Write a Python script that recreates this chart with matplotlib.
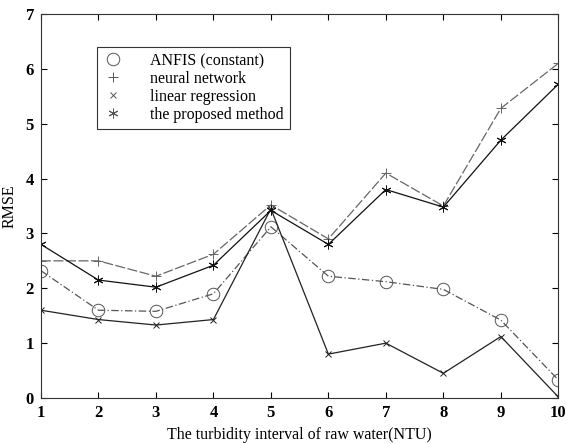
import matplotlib
matplotlib.use("Agg")
import matplotlib.pyplot as plt
from matplotlib.lines import Line2D

intervals = [1, 2, 3, 4, 5, 6, 7, 8, 9, 10]
anfis = [2.32, 1.60, 1.58, 1.90, 3.12, 2.22, 2.12, 1.98, 1.42, 0.33]
neural = [2.50, 2.50, 2.22, 2.62, 3.52, 2.90, 4.10, 3.50, 5.28, 6.10]
linreg = [1.60, 1.43, 1.33, 1.43, 3.45, 0.80, 1.00, 0.45, 1.12, 0.02]
proposed = [2.80, 2.15, 2.02, 2.42, 3.42, 2.80, 3.80, 3.48, 4.70, 5.72]
labels = ["ANFIS (constant)", "neural network", "linear regression", "the proposed method"]

plt.rcParams["font.family"] = ["Liberation Serif", "DejaVu Serif"]

fig = plt.figure(figsize=(5.66, 4.44), dpi=100)
ax = fig.add_axes([0.0724, 0.1036, 0.9140, 0.8649])

series = [
    (anfis, "o", 9, "#555555", (0, (6, 2, 1, 2))),
    (neural, "+", 7, "#666666", (0, (8, 2))),
    (linreg, "x", 4, "#222222", "-"),
    (proposed, (6, 2, 0), 7, "#111111", "-"),
]

for vals, mk, ms, col, ls in series:
    ax.plot(intervals, vals, color=col, lw=0.9, ls=ls, marker=mk, ms=ms,
            mfc="none", mec=col, mew=0.7)

handles = [Line2D([], [], ls="none", marker=mk, ms=ms, mfc="none", mec="#555555", mew=0.7)
           for _, mk, ms, _, _ in series]
leg = ax.legend(handles, labels, loc="upper left", bbox_to_anchor=(0.108, 0.915),
                frameon=True, fancybox=False, fontsize=11.5, handlelength=1.2,
                handletextpad=1.7, labelspacing=0.12, borderpad=0.4, borderaxespad=0)
leg.get_frame().set_edgecolor("black")
leg.get_frame().set_linewidth(0.8)

ax.set_xlim(1, 10)
ax.set_ylim(0, 7)
ax.set_xticks(intervals)
ax.set_yticks(range(8))
ax.tick_params(direction="in", top=True, right=True, length=4, labelsize=12, pad=5)
for lbl in ax.get_xticklabels() + ax.get_yticklabels():
    lbl.set_fontweight("bold")
for s in ax.spines.values():
    s.set_linewidth(0.8)
    s.set_color("#333333")

ax.set_xlabel("The turbidity interval of raw water(NTU)", fontsize=11.5, labelpad=4)
ax.set_ylabel("RMSE", fontsize=11.5, labelpad=6)

fig.savefig("out.png", dpi=100)
